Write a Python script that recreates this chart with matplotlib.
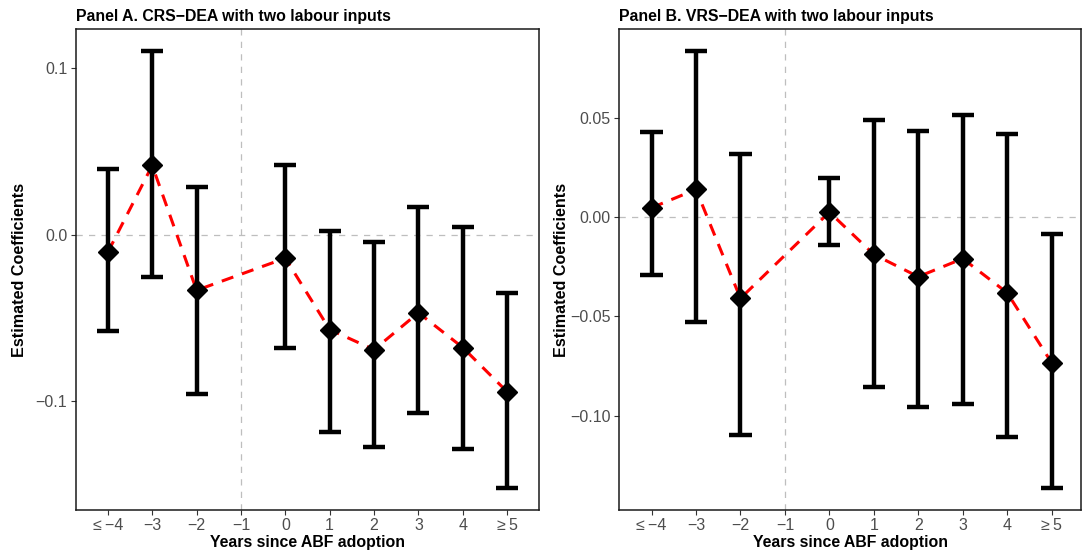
import matplotlib
matplotlib.use("Agg")
import matplotlib.pyplot as plt
from matplotlib.ticker import FuncFormatter
import numpy as np

# event-time categories (−1 is the omitted reference year)
categories = ["≤\u2009−4", "−3", "−2", "−1", "0", "1", "2", "3", "4", "≥\u20095"]
est_years = ["≤−4", "−3", "−2", "0", "1", "2", "3", "4", "≥5"]

# Panel A: CRS-DEA
crs_coef = [-0.0106, 0.0415, -0.0335, -0.0142, -0.0571, -0.0692, -0.0470, -0.0679, -0.0945]
crs_low = [-0.0582, -0.0258, -0.0960, -0.0680, -0.1187, -0.1274, -0.1072, -0.1288, -0.1524]
crs_high = [0.0395, 0.1102, 0.0284, 0.0415, 0.0020, -0.0044, 0.0166, 0.0046, -0.0350]

# Panel B: VRS-DEA
vrs_coef = [0.0047, 0.0139, -0.0409, 0.0025, -0.0188, -0.0300, -0.0209, -0.0381, -0.0733]
vrs_low = [-0.0293, -0.0528, -0.1097, -0.0142, -0.0857, -0.0958, -0.0943, -0.1107, -0.1364]
vrs_high = [0.0428, 0.0835, 0.0316, 0.0198, 0.0488, 0.0433, 0.0512, 0.0416, -0.0084]

panels = [
    ("Panel A. CRS−DEA with two labour inputs", crs_coef, crs_low, crs_high,
     [-0.1, 0.0, 0.1], "{:.1f}"),
    ("Panel B. VRS−DEA with two labour inputs", vrs_coef, vrs_low, vrs_high,
     [-0.10, -0.05, 0.0, 0.05], "{:.2f}"),
]

plt.rcParams["font.family"] = ["Liberation Sans", "DejaVu Sans"]

W, H = 1084, 553
fig = plt.figure(figsize=(W / 100, H / 100), dpi=100)
# pixel box of each panel, x-limits and y-label pad
boxes = [
    (75.7, 539.3, 0.275, 10.725, 6),
    (619.3, 1081.0, 0.275, 10.66, 1),
]

pos = {c: i + 1 for i, c in enumerate(["≤−4", "−3", "−2", "−1", "0", "1", "2", "3", "4", "≥5"])}
ref_x = pos["−1"]

for (title, coef, lo, hi, yt, fmt), (x0, x1, xl0, xl1, ylp) in zip(panels, boxes):
    ax = fig.add_axes([x0 / W, 1 - 510 / H, (x1 - x0) / W, (510 - 29.3) / H])
    x = np.array([pos[c] for c in est_years], dtype=float)
    coef = np.array(coef); lo = np.array(lo); hi = np.array(hi)

    ax.axhline(0, color="#BEBEBE", lw=0.9, ls=(0, (5, 5)), zorder=1)
    ax.axvline(ref_x, color="#BEBEBE", lw=0.9, ls=(0, (5, 5)), zorder=1)

    ax.plot(x, coef, color="red", lw=2.2, ls=(0, (4, 3)), zorder=2)
    ax.vlines(x, lo, hi, color="black", lw=3.2, zorder=3)
    ax.hlines(lo, x - 0.25, x + 0.25, color="black", lw=3.2, zorder=3)
    ax.hlines(hi, x - 0.25, x + 0.25, color="black", lw=3.2, zorder=3)
    ax.plot(x, coef, ls="none", marker="D", ms=10, color="black", zorder=4)

    span = hi.max() - lo.min()
    ax.set_ylim(lo.min() - 0.05 * span, hi.max() + 0.05 * span)
    ax.set_xlim(xl0, xl1)
    ax.set_xticks(range(1, len(categories) + 1))
    ax.set_xticklabels(categories)
    ax.set_yticks(yt)
    ax.yaxis.set_major_formatter(FuncFormatter(lambda v, p, f=fmt: f.format(v).replace("-", "−")))

    ax.tick_params(axis="both", direction="out", length=3.5, width=0.8,
                   color="#333333", labelcolor="#4D4D4D", labelsize=11.5, pad=2.5)
    for s in ax.spines.values():
        s.set_color("#1a1a1a")
        s.set_linewidth(1.1)

    ax.set_title(title, loc="left", fontsize=11.4, fontweight="bold", pad=6)
    ax.set_xlabel("Years since ABF adoption", fontsize=11.4, fontweight="bold", labelpad=1.5)
    ax.set_ylabel("Estimated Coefficients", fontsize=11.6, fontweight="bold", labelpad=ylp)

fig.savefig("out.png", dpi=100)
